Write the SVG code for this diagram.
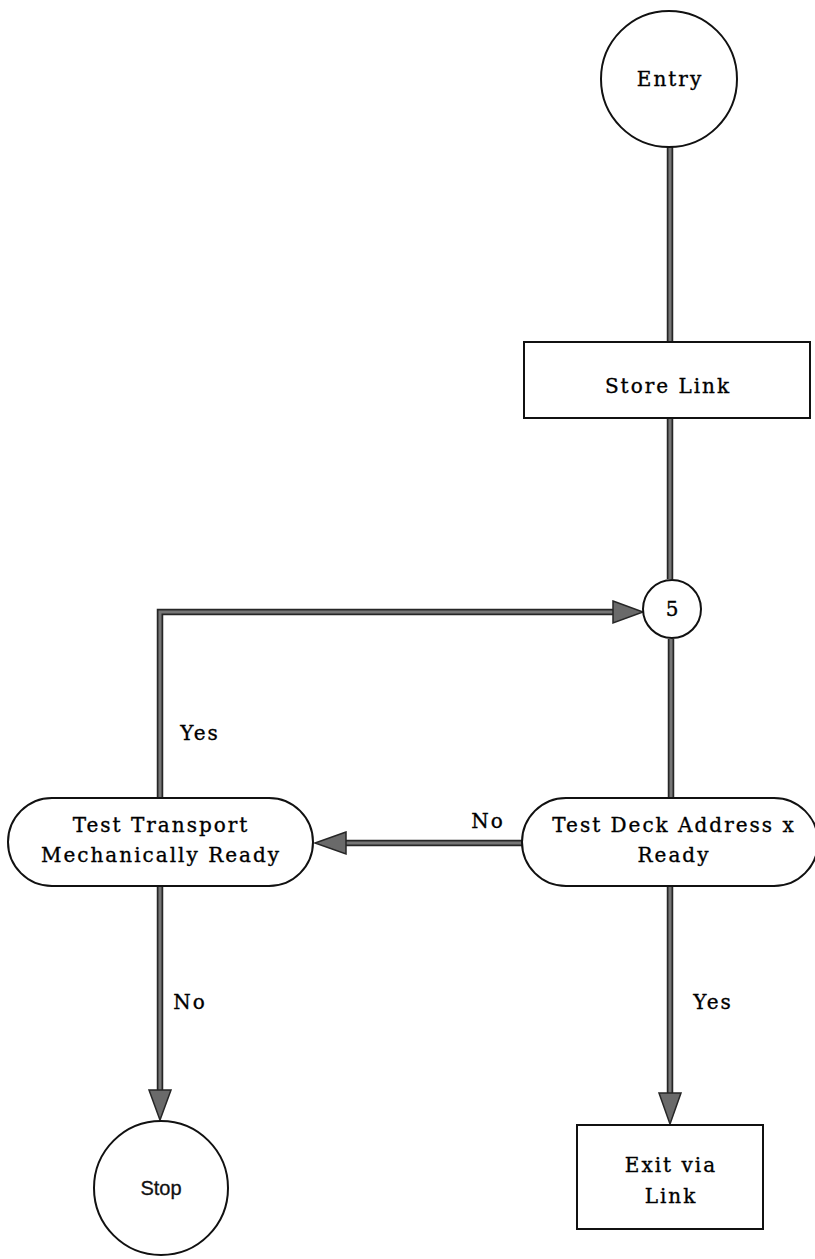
<svg xmlns="http://www.w3.org/2000/svg" width="815" height="1259" viewBox="0 0 815 1259">
<style>
.shape{fill:#fff;stroke:#111;stroke-width:2}
.lbl{font-family:"DejaVu Serif","Liberation Serif",serif;font-size:20px;letter-spacing:2px;fill:#000;stroke:#000;stroke-width:0.35;text-anchor:middle}
.sans{font-family:"Liberation Sans","DejaVu Sans",sans-serif;font-size:20px;fill:#111;stroke:#111;stroke-width:0.3;text-anchor:middle}
.eo{fill:none;stroke:#262626;stroke-width:6.5}
.ei{fill:none;stroke:#767676;stroke-width:3}
.ah{fill:#6a6a6a;stroke:#262626;stroke-width:1.5;stroke-linejoin:miter}
</style>
<rect width="815" height="1259" fill="#fff"/>
<g id="connectors">
  <path class="eo" d="M670 147 V342 M670 418 V579 M671 639 V798"/>
  <path class="ei" d="M670 147 V342 M670 418 V579 M671 639 V798"/>
  <path class="eo" d="M160 798 V612 H614"/>
  <path class="ei" d="M160 798 V612 H614"/>
  <polygon class="ah" points="613,601 643,612 613,623"/>
  <path class="eo" d="M522 843 H345"/>
  <path class="ei" d="M522 843 H345"/>
  <polygon class="ah" points="346,832 315,843 346,854"/>
  <path class="eo" d="M160 886 V1091"/>
  <path class="ei" d="M160 886 V1091"/>
  <polygon class="ah" points="149,1090 160,1120 171,1090"/>
  <path class="eo" d="M670 886 V1094"/>
  <path class="ei" d="M670 886 V1094"/>
  <polygon class="ah" points="659,1093 670,1124 681,1093"/>
  <text class="lbl" x="200" y="740">Yes</text>
  <text class="lbl" x="488" y="828">No</text>
  <text class="lbl" x="190" y="1009">No</text>
  <text class="lbl" x="713" y="1009">Yes</text>
</g>
<g id="entry">
  <circle class="shape" cx="669" cy="79" r="68"/>
  <text class="lbl" x="670" y="86">Entry</text>
</g>
<g id="store-link">
  <rect class="shape" x="524" y="342" width="286" height="76"/>
  <text class="lbl" x="668" y="393">Store Link</text>
</g>
<g id="connector-5">
  <circle class="shape" cx="672" cy="609" r="29"/>
  <text class="lbl" x="673" y="616">5</text>
</g>
<g id="test-deck">
  <rect class="shape" x="522" y="798" width="296" height="88" rx="44" ry="44"/>
  <text class="lbl" x="674" y="832">Test Deck Address x</text>
  <text class="lbl" x="674" y="862">Ready</text>
</g>
<g id="test-transport">
  <rect class="shape" x="8" y="798" width="305" height="88" rx="44" ry="44"/>
  <text class="lbl" x="161" y="832">Test Transport</text>
  <text class="lbl" x="161" y="862">Mechanically Ready</text>
</g>
<g id="stop">
  <circle class="shape" cx="161" cy="1188" r="67"/>
  <text class="sans" x="161" y="1195">Stop</text>
</g>
<g id="exit">
  <rect class="shape" x="577" y="1125" width="186" height="104"/>
  <text class="lbl" x="671" y="1172">Exit via</text>
  <text class="lbl" x="671" y="1203">Link</text>
</g>
</svg>
